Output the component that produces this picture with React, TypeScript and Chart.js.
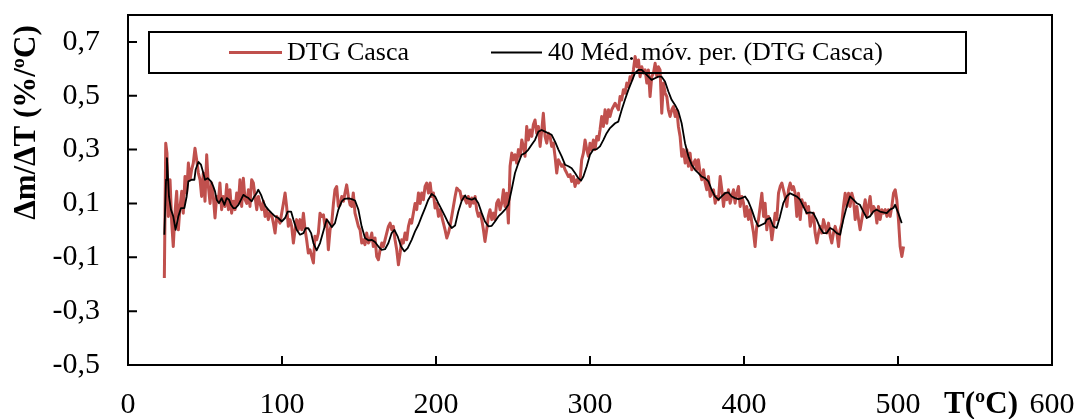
import React, { useEffect, useRef } from "react";
import { Chart, registerables } from "chart.js";

Chart.register(...registerables);

const FONT = "'Liberation Serif', 'Times New Roman', Times, serif";

const seriesNames = ["DTG Casca", "40 Méd. móv. per. (DTG Casca)"];
const xTitle = "T(ºC)";
const yTitle = "Δm/ΔT (%/ºC)";
const xTicks = [0, 100, 200, 300, 400, 500, 600];
const yTicks = [-0.5, -0.3, -0.1, 0.1, 0.3, 0.5, 0.7];

// DTG Casca (raw curve)
const dtgTemps = [
  23.6, 24.5, 25.3,
  26.2, 27.3, 28.4, 29.4, 30.5, 31.6, 32.7, 33.8, 34.9, 35.9, 37.0, 38.1,
  39.2, 40.3, 41.3, 42.4, 43.5, 44.6, 45.7, 46.8, 47.8, 48.9, 50.0, 51.1,
  52.2, 53.3, 54.3, 55.4, 56.5, 57.6, 58.7, 59.7, 60.8, 61.9, 63.0, 64.1,
  65.2, 66.2, 67.3, 68.4, 69.5, 70.6, 71.7, 72.7, 73.8, 74.9, 76.0, 77.1,
  78.2, 79.2, 80.3, 81.4, 82.5, 83.6, 84.7, 85.7, 86.8, 87.9, 89.0, 90.1,
  91.1, 92.2, 93.3, 94.4, 95.5, 96.6, 97.6, 98.7, 99.8, 100.9, 102.0, 103.0,
  104.1, 105.2, 106.3, 107.4, 108.5, 109.5, 110.6, 111.7, 112.8, 113.9, 115.0, 116.0,
  117.1, 118.2, 119.3, 120.4, 121.4, 122.5, 123.6, 124.7, 125.8, 126.9, 127.9, 129.0,
  130.1, 131.2, 132.3, 133.4, 134.4, 135.5, 136.6, 137.7, 138.8, 139.9, 140.9, 142.0,
  143.1, 144.2, 145.3, 146.3, 147.4, 148.5, 149.6, 150.7, 151.8, 152.8, 153.9, 155.0,
  156.1, 157.2, 158.3, 159.3, 160.4, 161.5, 162.6, 163.7, 164.8, 165.8, 166.9, 168.0,
  169.1, 170.2, 171.3, 172.3, 173.4, 174.5, 175.6, 176.7, 177.7, 178.8, 179.9, 181.0,
  182.1, 183.2, 184.2, 185.3, 186.4, 187.5, 188.6, 189.7, 190.7, 191.8, 192.9, 194.0,
  195.1, 196.2, 197.2, 198.3, 199.4, 200.5, 201.6, 202.6, 203.7, 204.8, 205.9, 207.0,
  208.1, 209.1, 210.2, 211.3, 212.4, 213.5, 214.5, 215.6, 216.7, 217.8, 218.9, 219.9,
  221.0, 222.1, 223.2, 224.3, 225.4, 226.4, 227.5, 228.6, 229.7, 230.8, 231.8, 232.9,
  234.0, 235.1, 236.2, 237.3, 238.3, 239.4, 240.5, 241.6, 242.7, 243.8, 244.8, 245.9,
  247.0, 248.1, 249.2, 250.2, 251.3, 252.4, 253.5, 254.6, 255.7, 256.7, 257.8, 258.9,
  260.0, 261.1, 262.2, 263.2, 264.3, 265.4, 266.5, 267.6, 268.7, 269.7, 270.8, 271.9,
  273.0, 274.1, 275.1, 276.2, 277.3, 278.4, 279.5, 280.6, 281.6, 282.7, 283.8, 284.9,
  286.0, 287.1, 288.1, 289.2, 290.3, 291.4, 292.5, 293.6, 294.6, 295.7, 296.8, 297.9,
  299.0, 300.0, 301.1, 302.2, 303.3, 304.4, 305.5, 306.5, 307.6, 308.7, 309.8, 310.9,
  312.0, 313.0, 314.1, 315.2, 316.3, 317.4, 318.5, 319.5, 320.6, 321.7, 322.8, 323.9,
  325.0, 326.0, 327.1, 328.2, 329.3, 330.4, 331.5, 332.5, 333.6, 334.7, 335.8, 336.9,
  337.9, 339.0, 340.1, 341.2, 342.3, 343.4, 344.4, 345.5, 346.6, 347.7, 348.8, 349.9,
  350.9, 352.0, 353.1, 354.2, 355.3, 356.4, 357.4, 358.5, 359.6, 360.7, 361.8, 362.9,
  363.9, 365.0, 366.1, 367.2, 368.3, 369.3, 370.4, 371.5, 372.6, 373.7, 374.8, 375.8,
  376.9, 378.0, 379.1, 380.2, 381.3, 382.3, 383.4, 384.5, 385.6, 386.7, 387.7, 388.8,
  389.9, 391.0, 392.1, 393.2, 394.2, 395.3, 396.4, 397.5, 398.6, 399.7, 400.7, 401.8,
  402.9, 404.0, 405.1, 406.2, 407.2, 408.3, 409.4, 410.5, 411.6, 412.7, 413.7, 414.8,
  415.9, 417.0, 418.1, 419.2, 420.2, 421.3, 422.4, 423.5, 424.6, 425.6, 426.7, 427.8,
  428.9, 430.0, 431.1, 432.1, 433.2, 434.3, 435.4, 436.5, 437.6, 438.6, 439.7, 440.8,
  441.9, 443.0, 444.0, 445.1, 446.2, 447.3, 448.4, 449.5, 450.5, 451.6, 452.7, 453.8,
  454.9, 456.0, 457.0, 458.1, 459.2, 460.3, 461.4, 462.4, 463.5, 464.6, 465.7, 466.8,
  467.9, 468.9, 470.0, 471.1, 472.2, 473.3, 474.4, 475.4, 476.5, 477.6, 478.7, 479.8,
  480.8, 481.9, 483.0, 484.1, 485.2, 486.3, 487.3, 488.4, 489.5, 490.6, 491.7, 492.8,
  493.8, 494.9, 496.0, 497.1, 498.2, 499.2, 500.3, 501.4, 502.5, 503.6,
];
const dtgValues = [
  -0.177, 0.324, 0.287,
  0.052, 0.188, 0.027, -0.06, 0.064, 0.145, 0.002, 0.089, 0.145, 0.064, 0.2, 0.139,
  0.25, 0.188, 0.225, 0.25, 0.305, 0.262, 0.213, 0.188, 0.126, 0.213, 0.108, 0.281,
  0.163, 0.1, 0.176, 0.126, 0.046, 0.126, 0.108, 0.176, 0.077, 0.126, 0.089, 0.17,
  0.077, 0.151, 0.064, 0.108, 0.077, 0.139, 0.1, 0.188, 0.089, 0.194, 0.114, 0.1,
  0.151, 0.089, 0.188, 0.176, 0.126, 0.077, 0.126, 0.1, 0.077, 0.108, 0.052, 0.077,
  0.04, 0.064, 0.058, 0.027, -0.01, 0.052, 0.04, 0.027, 0.064, 0.1, 0.139, 0.089,
  0.015, 0.04, 0.015, -0.047, 0.002, 0.04, 0.002, 0.04, 0.002, 0.064, 0.002, -0.035,
  -0.084, -0.072, -0.097, -0.121, -0.022, -0.035, -0.01, 0.064, 0.052, 0.058, 0.015, 0.04,
  -0.072, 0.002, 0.027, 0.1, 0.151, 0.163, 0.089, 0.095, 0.126, 0.108, 0.139, 0.169,
  0.126, 0.095, 0.089, 0.139, 0.064, 0.04, 0.015, 0.002, -0.047, -0.035, -0.053, -0.01,
  -0.047, -0.035, -0.01, -0.06, -0.028, -0.097, -0.109, -0.072, -0.047, -0.06, -0.035, -0.01,
  0.015, 0.027, 0.002, 0.015, -0.035, -0.072, -0.128, -0.084, -0.035, -0.047, -0.01, -0.035,
  0.015, 0.04, 0.027, 0.064, 0.1, 0.077, 0.139, 0.1, 0.139, 0.114, 0.163, 0.176,
  0.139, 0.176, 0.126, 0.139, 0.083, 0.1, 0.052, 0.077, 0.052, 0.027, 0.002, -0.028,
  -0.01, 0.015, 0.052, 0.089, 0.126, 0.157, 0.151, 0.145, 0.114, 0.126, 0.114, 0.101,
  0.126, 0.089, 0.12, 0.101, 0.126, 0.077, 0.052, 0.064, 0.04, 0.002, -0.041, 0.002,
  0.052, 0.077, 0.04, 0.064, 0.04, 0.101, 0.114, 0.077, 0.101, 0.151, 0.089, 0.138,
  0.027, 0.238, 0.287, 0.262, 0.281, 0.25, 0.3, 0.275, 0.336, 0.312, 0.275, 0.386,
  0.336, 0.373, 0.349, 0.392, 0.41, 0.361, 0.386, 0.312, 0.373, 0.435, 0.349, 0.324,
  0.361, 0.349, 0.312, 0.324, 0.275, 0.213, 0.262, 0.25, 0.238, 0.244, 0.225, 0.213,
  0.2, 0.207, 0.182, 0.2, 0.163, 0.188, 0.176, 0.188, 0.262, 0.287, 0.336, 0.3,
  0.275, 0.324, 0.3, 0.336, 0.3, 0.349, 0.336, 0.373, 0.423, 0.386, 0.448, 0.398,
  0.448, 0.423, 0.448, 0.46, 0.472, 0.46, 0.448, 0.497, 0.485, 0.522, 0.51, 0.547,
  0.534, 0.571, 0.559, 0.596, 0.646, 0.608, 0.633, 0.571, 0.608, 0.584, 0.596, 0.547,
  0.596, 0.497, 0.571, 0.584, 0.621, 0.571, 0.608, 0.596, 0.435, 0.547, 0.51, 0.497,
  0.448, 0.423, 0.448, 0.46, 0.423, 0.448, 0.386, 0.349, 0.275, 0.3, 0.25, 0.3,
  0.238, 0.287, 0.225, 0.25, 0.262, 0.225, 0.262, 0.213, 0.188, 0.225, 0.176, 0.151,
  0.2, 0.126, 0.138, 0.151, 0.101, 0.126, 0.114, 0.2, 0.151, 0.089, 0.138, 0.114,
  0.151, 0.101, 0.126, 0.151, 0.101, 0.138, 0.163, 0.089, 0.126, 0.101, 0.052, 0.089,
  0.04, 0.077, 0.027, -0.01, -0.06, 0.015, 0.04, 0.089, 0.138, 0.052, 0.101, 0.002,
  0.052, 0.027, -0.035, 0.015, 0.064, 0.04, 0.138, 0.163, 0.176, 0.151, 0.126, 0.089,
  0.151, 0.176, 0.151, 0.163, 0.138, 0.052, 0.138, 0.04, 0.114, 0.089, 0.101, 0.064,
  0.089, 0.015, 0.04, 0.064, -0.01, -0.047, -0.01, 0.015, -0.01, 0.04, 0.015, -0.01,
  0.027, -0.022, -0.047, -0.01, 0.015, -0.01, -0.06, 0.002, 0.027, 0.089, 0.138, 0.089,
  0.138, 0.089, 0.138, 0.114, 0.04, 0.089, 0.04, 0.002, 0.04, 0.077, 0.114, 0.052,
  0.089, 0.126, 0.064, 0.089, 0.077, 0.027, 0.089, 0.04, 0.077, 0.064, 0.077, 0.052,
  0.077, 0.052, 0.089, 0.138, 0.151, 0.114, 0.04, -0.06, -0.097, -0.06,
];

// 40-period moving average
const avgTemps = [
  23.6, 24.7, 25.3, 26.6, 27.9, 29.4, 30.9, 32.7, 34.4, 36.6,
  38.1, 39.2, 41.3, 43.1, 43.9, 45.7, 47.4, 48.9, 50.0, 51.7,
  53.9, 55.4, 56.5, 57.6, 59.1, 60.8, 62.6, 64.1, 65.6, 66.9,
  68.4, 69.9, 71.7, 73.4, 74.9, 76.4, 78.2, 80.3, 82.0, 83.6,
  84.6, 86.4, 87.9, 89.4, 91.1, 93.3, 95.5, 97.6, 99.8, 102.0,
  103.7, 105.9, 107.4, 109.5, 111.7, 113.9, 115.4, 117.1, 118.9, 120.4,
  122.5, 124.7, 126.8, 129.0, 130.1, 132.3, 134.4, 136.6, 138.8, 140.5,
  143.1, 145.3, 147.4, 149.6, 151.7, 153.9, 156.1, 158.2, 160.4, 162.6,
  164.7, 166.9, 169.1, 171.2, 173.0, 175.1, 177.3, 179.5, 181.6, 184.2,
  186.4, 188.6, 190.7, 192.9, 195.0, 197.2, 199.4, 201.5, 203.7, 205.9,
  208.0, 210.2, 212.4, 214.5, 216.7, 218.9, 219.9, 223.2, 225.3, 227.5,
  229.7, 231.8, 234.0, 236.2, 238.3, 240.5, 242.7, 244.8, 247.0, 249.1,
  251.3, 253.5, 255.6, 257.8, 260.0, 262.1, 264.3, 266.5, 268.6, 270.8,
  273.0, 275.1, 277.3, 279.5, 281.6, 283.8, 286.0, 288.1, 290.3, 292.4,
  294.2, 295.7, 297.9, 300.0, 302.2, 304.4, 306.5, 308.7, 310.8, 313.0,
  316.3, 318.4, 320.6, 322.7, 324.9, 327.1, 329.2, 331.4, 333.6, 335.7,
  337.9, 340.0, 342.2, 344.4, 346.5, 348.7, 350.9, 353.0, 355.2, 357.4,
  359.5, 361.7, 363.9, 366.0, 368.2, 370.4, 372.5, 374.7, 376.9, 379.0,
  381.2, 383.4, 385.5, 387.7, 389.8, 392.0, 394.2, 396.3, 398.5, 400.7,
  402.8, 405.0, 407.2, 409.3, 411.5, 413.7, 414.7, 416.9, 419.0, 421.2,
  423.4, 425.5, 427.7, 429.9, 432.0, 434.2, 436.4, 438.5, 440.7, 442.9,
  445.0, 447.2, 449.4, 451.5, 453.7, 455.9, 458.0, 460.2, 462.4, 464.5,
  466.7, 468.8, 471.0, 473.2, 475.3, 477.5, 479.7, 481.8, 484.0, 486.2,
  488.3, 490.5, 492.7, 494.8, 497.0, 498.1, 500.2, 502.4,
];
const avgValues = [
  -0.016, 0.188, 0.268, 0.126, 0.077, 0.052, 0.002, 0.052, 0.083, 0.083,
  0.126, 0.182, 0.188, 0.188, 0.225, 0.254, 0.244, 0.213, 0.188, 0.194,
  0.182, 0.163, 0.145, 0.114, 0.101, 0.12, 0.095, 0.12, 0.114, 0.095,
  0.083, 0.083, 0.095, 0.114, 0.132, 0.126, 0.12, 0.108, 0.126, 0.139,
  0.151, 0.132, 0.108, 0.089, 0.077, 0.064, 0.052, 0.046, 0.033, 0.046,
  0.07, 0.07, 0.04, 0.002, -0.016, -0.01, 0.008, 0.008, -0.01, -0.047,
  -0.074, -0.047, -0.004, 0.04, 0.033, 0.012, 0.027, 0.077, 0.108, 0.117,
  0.119, 0.116, 0.111, 0.077, 0.015, -0.028, -0.037, -0.035, -0.043, -0.06,
  -0.072, -0.07, -0.047, -0.01, 0.002, -0.022, -0.06, -0.078, -0.066, -0.035,
  -0.004, 0.021, 0.052, 0.083, 0.114, 0.135, 0.126, 0.101, 0.077, 0.052,
  0.027, 0.009, 0.018, 0.07, 0.11, 0.13, 0.12, 0.114, 0.12, 0.101,
  0.064, 0.033, 0.015, 0.017, 0.033, 0.052, 0.064, 0.077, 0.095, 0.151,
  0.213, 0.25, 0.281, 0.287, 0.3, 0.318, 0.336, 0.367, 0.373, 0.367,
  0.361, 0.355, 0.33, 0.3, 0.275, 0.244, 0.238, 0.231, 0.213, 0.194,
  0.185, 0.2, 0.238, 0.281, 0.3, 0.302, 0.312, 0.336, 0.361, 0.38,
  0.398, 0.404, 0.448, 0.485, 0.522, 0.553, 0.584, 0.596, 0.596, 0.584,
  0.571, 0.559, 0.565, 0.571, 0.571, 0.553, 0.516, 0.485, 0.466, 0.442,
  0.398, 0.324, 0.275, 0.244, 0.225, 0.213, 0.2, 0.194, 0.182, 0.151,
  0.126, 0.114, 0.126, 0.138, 0.141, 0.126, 0.12, 0.116, 0.12, 0.126,
  0.108, 0.077, 0.04, 0.015, 0.021, 0.027, 0.04, 0.046, 0.015, 0.009,
  0.052, 0.101, 0.126, 0.138, 0.132, 0.126, 0.114, 0.089, 0.064, 0.067,
  0.064, 0.04, 0.009, -0.01, -0.01, 0.009, 0.002, -0.01, -0.016, 0.04,
  0.089, 0.126, 0.114, 0.101, 0.095, 0.07, 0.046, 0.052, 0.07, 0.077,
  0.07, 0.067, 0.064, 0.077, 0.083, 0.095, 0.064, 0.027,
];

const RED = "#C0504D";

const zeroPad = (s: any) => {
  s.paddingTop = 0;
  s.paddingBottom = 0;
  s.paddingLeft = 0;
  s.paddingRight = 0;
};

const decorPlugin = {
  id: "decor",
  afterDatasetsDraw(chart: any) {
    const ctx = chart.ctx;
    ctx.save();
    ctx.strokeStyle = "#000";
    ctx.lineWidth = 2;
    ctx.strokeRect(149, 32, 817, 41);
    ctx.lineWidth = 3;
    ctx.strokeStyle = RED;
    ctx.beginPath();
    ctx.moveTo(229, 52.5);
    ctx.lineTo(282, 52.5);
    ctx.stroke();
    ctx.lineWidth = 1.8;
    ctx.strokeStyle = "#000";
    ctx.beginPath();
    ctx.moveTo(491, 52.5);
    ctx.lineTo(542, 52.5);
    ctx.stroke();
    ctx.fillStyle = "#000";
    ctx.font = `26px ${FONT}`;
    ctx.textBaseline = "middle";
    ctx.textAlign = "left";
    ctx.fillText(seriesNames[0], 287, 53);
    ctx.fillText(seriesNames[1], 548, 53);
    ctx.restore();
  },
  afterDraw(chart: any) {
    const ctx = chart.ctx;
    const a = chart.chartArea;
    const xs = chart.scales.x;
    const ys = chart.scales.y;
    ctx.save();
    ctx.strokeStyle = "#000";
    ctx.lineWidth = 2;
    ctx.strokeRect(a.left, a.top, a.right - a.left, a.bottom - a.top);
    ctx.beginPath();
    for (const v of yTicks) {
      const y = ys.getPixelForValue(v);
      ctx.moveTo(a.left, y);
      ctx.lineTo(a.left + 9, y);
    }
    for (const v of xTicks) {
      const x = xs.getPixelForValue(v);
      ctx.moveTo(x, a.bottom);
      ctx.lineTo(x, a.bottom - 9);
    }
    ctx.stroke();
    ctx.fillStyle = "#000";
    ctx.font = `bold 31px ${FONT}`;
    ctx.textBaseline = "middle";
    ctx.textAlign = "center";
    ctx.fillText(xTitle, 981, 405);
    ctx.translate(26.5, 122.5);
    ctx.rotate(-Math.PI / 2);
    ctx.fillText(yTitle, 0, 0);
    ctx.restore();
  },
};

export default function App() {
  const ref = useRef<HTMLCanvasElement>(null);
  useEffect(() => {
    const canvas = ref.current;
    if (!canvas) return;
    const chart = new Chart(canvas, {
      type: "line",
      data: {
        datasets: [
          {
            label: seriesNames[1],
            data: avgTemps.map((x, i) => ({ x, y: avgValues[i] })),
            borderColor: "#000",
            borderWidth: 1.8,
            pointRadius: 0,
            tension: 0,
            order: 1,
            borderJoinStyle: "round",
          },
          {
            label: seriesNames[0],
            data: dtgTemps.map((x, i) => ({ x, y: dtgValues[i] })),
            borderColor: RED,
            borderWidth: 3,
            pointRadius: 0,
            tension: 0,
            order: 2,
            borderJoinStyle: "round",
          },
        ],
      },
      options: {
        responsive: false,
        animation: false,
        devicePixelRatio: 1,
        layout: { padding: { top: 15, right: 26, left: 0, bottom: 0 } },
        plugins: { legend: { display: false }, tooltip: { enabled: false } },
        scales: {
          x: {
            type: "linear",
            min: 0,
            max: 600,
            afterBuildTicks: (s: any) => {
              s.ticks = xTicks.map((v) => ({ value: v }));
            },
            afterFit: (s: any) => {
              s.height = 54;
              zeroPad(s);
            },
            grid: { display: false, drawTicks: false },
            border: { display: false },
            ticks: {
              font: { family: FONT, size: 30 },
              color: "#000",
              padding: 22,
              maxRotation: 0,
              autoSkip: false,
              callback: (v: any) => String(v),
            },
          },
          y: {
            type: "linear",
            min: -0.5,
            max: 0.8,
            afterBuildTicks: (s: any) => {
              s.ticks = yTicks.map((v) => ({ value: v }));
            },
            afterFit: (s: any) => {
              s.width = 128;
              zeroPad(s);
            },
            grid: { display: false, drawTicks: false },
            border: { display: false },
            ticks: {
              font: { family: FONT, size: 30 },
              color: "#000",
              padding: 28,
              autoSkip: false,
              callback: (v: any) => Number(v).toFixed(1).replace(".", ","),
            },
          },
        },
      },
      plugins: [decorPlugin],
    } as any);
    return () => chart.destroy();
  }, []);
  return (
    <div style={{ position: "fixed", left: 0, top: 0, width: 1078, height: 419, background: "#fff" }}>
      <canvas ref={ref} width={1078} height={419} style={{ display: "block" }} />
    </div>
  );
}
